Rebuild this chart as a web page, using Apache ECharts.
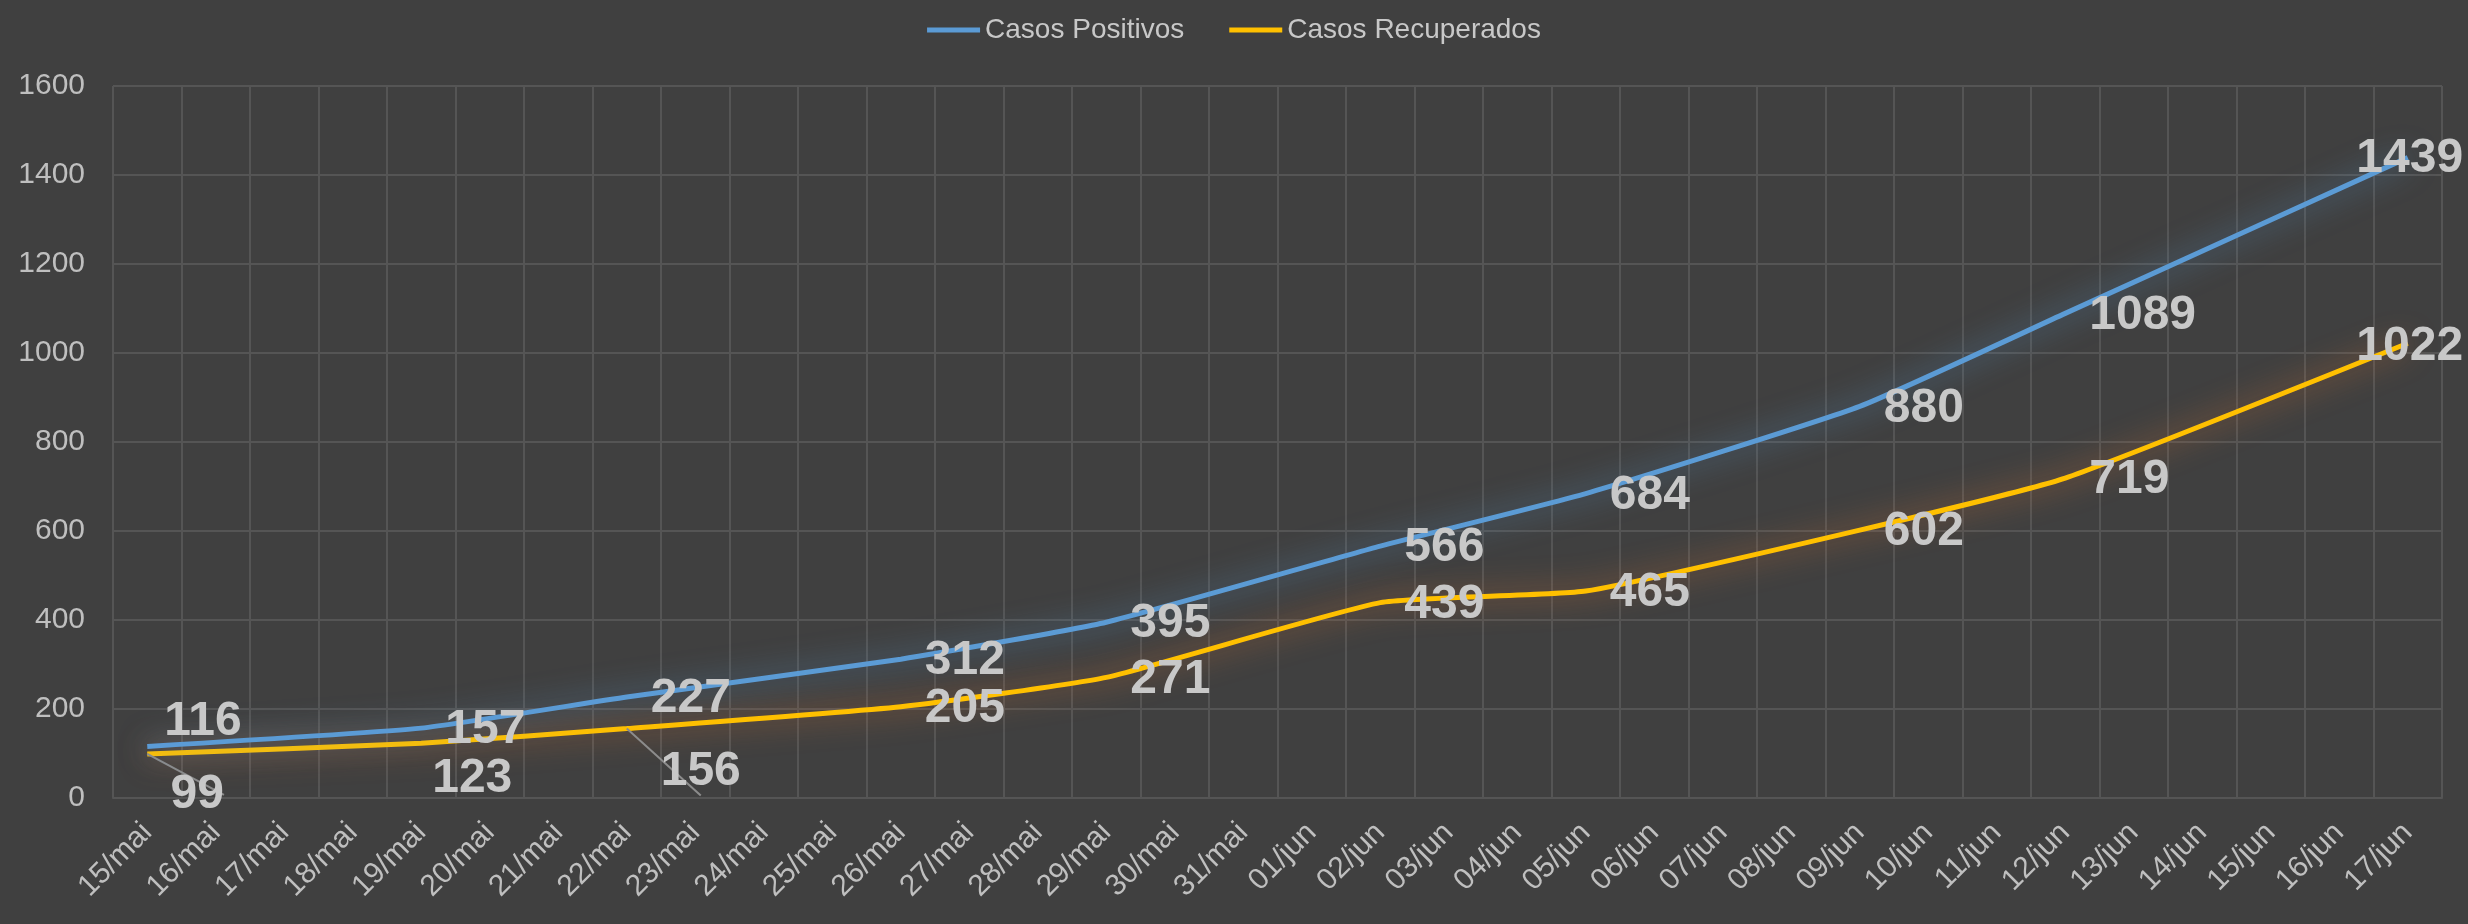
<!DOCTYPE html>
<html>
<head>
<meta charset="utf-8">
<script src="https://cdn.jsdelivr.net/npm/echarts@6/dist/echarts.min.js"></script>
<style>
  html, body { margin: 0; padding: 0; background: #404040; }
  #chart { width: 2468px; height: 924px; }
</style>
</head>
<body>
<div id="chart"></div>
<script>
// categorias (datas)
const categories = [
  "15/mai", "16/mai", "17/mai", "18/mai", "19/mai", "20/mai", "21/mai", "22/mai",
  "23/mai", "24/mai", "25/mai", "26/mai", "27/mai", "28/mai", "29/mai", "30/mai",
  "31/mai", "01/jun", "02/jun", "03/jun", "04/jun", "05/jun", "06/jun", "07/jun",
  "08/jun", "09/jun", "10/jun", "11/jun", "12/jun", "13/jun", "14/jun", "15/jun",
  "16/jun", "17/jun"
];

const casosPositivos = [
  116, null, null, null, 157, null, null, 227, null, null, null, 312, null, null, 395, null, null,
  null, 566, null, null, 684, null, null, null, 880, null, null, 1089, null, null, null, null, 1439
];

const casosRecuperados = [
  99, null, null, null, 123, null, null, 156, null, null, null, 205, null, null, 271, null, null,
  null, 439, null, null, 465, null, null, null, 602, null, null, 719, null, null, null, null, 1022
];

const yTicks = [0, 200, 400, 600, 800, 1000, 1200, 1400, 1600];

// ajustes manuais de posição dos rótulos (índice -> estilo)
const leader = { show: true, length2: 14, lineStyle: { color: "#8c8c8c", width: 2 } };
const positivosLabelFix = {
  0: { position: "right", distance: 17, offset: [0, -25] },
  33: { position: "inside", offset: [2, 1] },
};
const recuperadosLabelFix = {
  0: { position: "inside", offset: [50, 41], labelLine: leader },
  4: { position: "inside", offset: [51, 36] },
  7: { position: "inside", offset: [74, 43], labelLine: leader },
  33: { position: "inside", offset: [2, 4] },
};

const buildData = (values, fixes) =>
  values.map((v, i) => {
    if (v === null) return null;
    const fix = fixes[i];
    if (!fix) return v;
    const item = { value: v, label: { position: fix.position, offset: fix.offset } };
    if (fix.distance !== undefined) item.label.distance = fix.distance;
    if (fix.labelLine) item.labelLine = fix.labelLine;
    return item;
  });

const baseFont = "'Liberation Sans', Arial, sans-serif";

const labelStyle = {
  show: true,
  position: "right",
  distance: 24,
  offset: [0, 2],
  color: "#c8c8c8",
  fontSize: 48,
  fontWeight: "bold",
  fontFamily: baseFont,
};

const chart = echarts.init(document.getElementById("chart"));

const option = {
  backgroundColor: "#404040",
  animation: false,
  legend: {
    top: 11,
    left: "center",
    icon: "rect",
    itemWidth: 53,
    itemHeight: 5,
    itemGap: 45,
    textStyle: { color: "#c8c8c8", fontSize: 28, fontFamily: baseFont },
    data: [
      { name: "Casos Positivos", itemStyle: { color: "#5b9bd5" } },
      { name: "Casos Recuperados", itemStyle: { color: "#ffc000" } },
    ],
  },
  grid: { left: 113, right: 26, top: 86, bottom: 126 },
  xAxis: {
    type: "category",
    data: categories,
    boundaryGap: true,
    axisLine: { show: true, lineStyle: { color: "#555555", width: 2 } },
    axisTick: { show: false },
    axisLabel: {
      interval: 0,
      rotate: 45,
      margin: 30,
      color: "#bfbfbf",
      fontSize: 30,
      fontFamily: baseFont,
    },
    splitLine: { show: true, interval: 0, lineStyle: { color: "#555555", width: 2 } },
  },
  yAxis: {
    type: "value",
    min: yTicks[0],
    max: yTicks[yTicks.length - 1],
    interval: 200,
    axisLine: { show: false },
    axisTick: { show: false },
    axisLabel: {
      margin: 28,
      color: "#bfbfbf",
      fontSize: 30,
      fontFamily: baseFont,
      formatter: (v) => String(v),
    },
    splitLine: { lineStyle: { color: "#555555", width: 2 } },
  },
  series: [
    {
      name: "Casos Positivos",
      type: "line",
      data: buildData(casosPositivos, positivosLabelFix),
      connectNulls: true,
      smooth: 0.15,
      symbol: "circle",
      symbolSize: 0,
      itemStyle: { color: "#5b9bd5" },
      lineStyle: {
        color: "#5b9bd5",
        width: 5,
        shadowColor: "rgba(91,155,213,0.8)",
        shadowBlur: 30,
      },
      label: labelStyle,
      z: 3,
    },
    {
      name: "Casos Recuperados",
      type: "line",
      data: buildData(casosRecuperados, recuperadosLabelFix),
      connectNulls: true,
      smooth: 0.15,
      symbol: "circle",
      symbolSize: 0,
      itemStyle: { color: "#ffc000" },
      lineStyle: {
        color: "#ffc000",
        width: 5,
        shadowColor: "rgba(237,125,49,0.8)",
        shadowBlur: 30,
      },
      label: labelStyle,
      z: 2,
    },
  ],
};

chart.setOption(option);
</script>
</body>
</html>
